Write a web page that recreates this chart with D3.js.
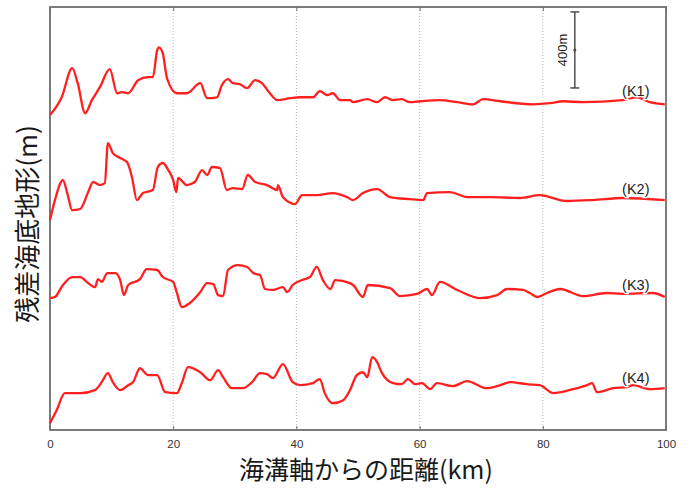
<!DOCTYPE html>
<html>
<head>
<meta charset="utf-8">
<title>残差海底地形</title>
<script src="https://d3js.org/d3.v7.min.js"></script>
<style>
  body { margin: 0; background: #fff; }
  svg { display: block; }
  .grid line { stroke: #bbb; stroke-dasharray: 1,2; }
  .tick text { fill: #333; }
</style>
</head>
<body>
<svg width="696" height="491"></svg>
<script>

// profile names and vertical offsets (m)
var names = ["(K1)", "(K2)", "(K3)", "(K4)"];
var offsets = [1725, 1210, 705, 215];
var xTicks = [0, 20, 40, 60, 80, 100];

// [distance km, residual m]
var k1 = [[0,-68],[1.9,26],[3.6,179],[4.5,100],[5.7,-58],[6.8,11],[8.1,79],[9.7,174],[10.9,47],[11.7,53],
  [12.7,47],[14.3,116],[15.9,132],[16.7,132],[17.4,274],[17.7,289],[18.3,258],[19.0,126],[20.6,47],[22.2,47],
  [24.4,100],[25.5,21],[27.1,26],[27.9,89],[28.9,121],[29.7,100],[30.8,95],[32.0,74],[33.3,116],[34.4,100],
  [35.7,47],[36.9,11],[39.0,21],[40.6,26],[42.7,26],[43.8,58],[45.0,37],[45.9,47],[47.1,11],[48.7,11],
  [49.2,0],[51.5,16],[53.1,0],[54.4,26],[55.7,11],[57.1,16],[58.4,0],[60.1,5],[63.3,11],[66.1,0],
  [68.7,-11],[70.3,16],[73.1,5],[78.4,-11],[81.2,-5],[83.3,5],[86.5,0],[93.0,11],[95.3,26],[97.4,0],[99.8,-11]];
var k2 = [[0,-105],[0.8,0],[2.1,105],[2.8,37],[3.6,-53],[4.9,-47],[6.2,42],[7.0,95],[8.1,79],[8.9,89],
  [9.4,300],[10.2,247],[11.4,221],[12.5,200],[13.3,121],[14.1,0],[15.1,37],[16.7,53],[17.5,174],[18.3,195],
  [19.2,158],[20.0,105],[20.5,42],[20.8,116],[22.2,79],[23.5,95],[24.7,158],[25.5,132],[26.3,174],[27.6,168],
  [28.7,53],[29.7,63],[31.2,58],[32.1,132],[33.3,95],[35.2,79],[36.9,53],[37.0,79],[37.8,16],[39.8,-21],
  [40.9,26],[43.3,26],[45.9,37],[48.2,16],[49.2,0],[50.8,37],[53.1,58],[55.2,16],[58.4,5],[60.6,0],
  [61.2,37],[64.9,42],[67.7,16],[71.4,16],[76.3,11],[79.5,26],[83.9,-5],[88.1,0],[93.0,11],[99.8,0]];
var k3 = [[0,-11],[0.8,-5],[2.1,58],[3.6,100],[4.9,100],[6.2,68],[7.3,47],[7.8,89],[8.4,74],[9.3,121],
  [10.6,121],[11.4,84],[12.0,5],[12.7,58],[14.6,89],[15.7,142],[17.4,137],[18.3,100],[20.0,74],[20.6,16],
  [21.4,-58],[22.7,-37],[24.4,21],[25.5,68],[26.5,63],[27.3,5],[28.1,0],[28.9,137],[30.5,163],[32.0,153],
  [33.0,121],[34.1,110],[34.9,37],[36.2,32],[37.8,47],[38.5,21],[39.4,58],[40.9,84],[42.2,100],[43.3,153],
  [44.3,84],[45.5,37],[46.3,84],[48.7,68],[49.2,58],[50.8,-5],[51.6,58],[55.2,42],[56.8,0],[59.6,11],
  [61.2,37],[62.0,5],[63.3,74],[66.1,32],[69.8,-11],[72.6,5],[74.2,37],[76.8,32],[77.9,16],[79.1,-5],
  [80.7,16],[82.8,37],[86.5,0],[90.4,16],[93.0,11],[97.9,16],[99.8,-5]];
var k4 = [[0,-179],[1.1,-110],[2.4,-21],[4.9,-21],[7.3,-5],[8.4,37],[9.4,84],[10.2,37],[11.4,-5],[12.7,21],
  [13.5,37],[14.6,110],[15.9,74],[17.4,74],[18.7,-16],[20.6,-21],[21.4,32],[22.4,116],[24.4,89],[26.0,47],
  [27.3,100],[28.1,63],[29.5,5],[31.3,5],[32.8,37],[34.1,84],[35.2,79],[36.2,58],[37.8,132],[39.4,37],
  [40.6,21],[42.7,32],[43.8,53],[44.6,-21],[45.9,-74],[47.6,-58],[48.7,-5],[49.8,74],[50.8,89],[51.5,63],
  [52.3,168],[53.1,142],[53.9,84],[55.7,32],[57.1,26],[58.1,53],[59.3,26],[60.4,32],[61.7,0],[62.8,32],
  [65.4,16],[67.7,42],[70.9,5],[73.1,21],[74.7,37],[77.4,26],[79.5,21],[81.7,-21],[84.9,0],[87.2,21],
  [88.0,32],[88.8,-16],[91.4,5],[93.7,11],[94.6,21],[97.4,0],[99.8,5]];
var profiles = [k1, k2, k3, k4];

var svg = d3.select("svg"),
    plotL = 50, plotR = 666, plotT = 7, plotB = 430;

var x = d3.scaleLinear().domain([0, 100]).range([plotL, plotR]),
    y = d3.scaleLinear().domain([0, 2226]).range([plotB, plotT]);

// dotted grid
svg.append("g").attr("class", "grid")
  .selectAll("line").data(xTicks.slice(1, -1)).enter().append("line")
  .attr("x1", function(d) { return x(d); }).attr("x2", function(d) { return x(d); })
  .attr("y1", plotT).attr("y2", plotB);

// bottom axis
var ax = svg.append("g")
  .attr("transform", "translate(0," + plotB + ")")
  .call(d3.axisBottom(x).tickValues(xTicks).tickSizeInner(-4).tickSizeOuter(0).tickPadding(10));
ax.select(".domain").remove();
ax.selectAll(".tick line").attr("stroke", "#666");
ax.selectAll(".tick text").style("font-family", "Liberation Sans, Arial, sans-serif").style("font-size", "11.5px");

// top ticks
var at = svg.append("g")
  .attr("transform", "translate(0," + plotT + ")")
  .call(d3.axisTop(x).tickValues(xTicks).tickSizeInner(-4).tickSizeOuter(0).tickFormat(""));
at.select(".domain").remove();
at.selectAll(".tick line").attr("stroke", "#666");

// frame
svg.append("rect")
  .attr("x", plotL).attr("y", plotT)
  .attr("width", plotR - plotL).attr("height", plotB - plotT)
  .attr("fill", "none").attr("stroke", "#6e6e6e").attr("stroke-width", 1.8);

// profiles
var line = d3.line()
  .curve(d3.curveMonotoneX)
  .x(function(d) { return x(d[0]); })
  .y(function(d) { return y(d[1]); });

profiles.forEach(function(p, i) {
  var off = offsets[i];
  svg.append("path")
    .datum(p.map(function(d) { return [d[0], d[1] + off]; }))
    .attr("fill", "none")
    .attr("stroke", "#ff1f1f")
    .attr("stroke-width", 2.3)
    .attr("stroke-linejoin", "round")
    .attr("d", line);
});

// labels
svg.selectAll(".lab").data(names).enter().append("text")
  .attr("class", "lab")
  .attr("x", x(95.1))
  .attr("y", function(d, i) { return y(offsets[i] + 60); })
  .attr("text-anchor", "middle")
  .attr("dy", "0.35em")
  .style("font-family", "Liberation Sans, Arial, sans-serif")
  .style("font-size", "14.5px")
  .style("fill", "#222")
  .style("stroke", "#fff").style("stroke-width", 2.5).style("paint-order", "stroke")
  .text(function(d) { return d; });

// 400 m scale bar
var bx = x(85.2);
var sb = svg.append("g").attr("stroke", "#444").attr("stroke-width", 1.4);
sb.append("line").attr("x1", bx).attr("x2", bx).attr("y1", y(1800)).attr("y2", y(2200));
sb.append("line").attr("x1", bx - 4.5).attr("x2", bx + 4.5).attr("y1", y(1800)).attr("y2", y(1800));
sb.append("line").attr("x1", bx - 4.5).attr("x2", bx + 4.5).attr("y1", y(2200)).attr("y2", y(2200));
svg.append("circle").attr("cx", bx).attr("cy", y(2000)).attr("r", 1.5).attr("fill", "#444");
svg.append("text")
  .attr("transform", "translate(" + (bx - 12) + "," + y(2000) + ") rotate(-90)")
  .attr("text-anchor", "middle")
  .attr("dy", "0.35em")
  .style("font-family", "Liberation Sans, Arial, sans-serif")
  .style("font-size", "13px")
  .style("fill", "#222")
  .text("400m");

// axis titles
svg.append("text")
  .attr("x", 366).attr("y", 479)
  .attr("text-anchor", "middle")
  .style("font-family", "Noto Sans CJK JP, sans-serif")
  .style("font-size", "25px")
  .style("fill", "#1a1a1a")
  .text("海溝軸からの距離(km)");

svg.append("text")
  .attr("transform", "translate(28,224) rotate(-90)")
  .attr("text-anchor", "middle")
  .attr("dy", "0.35em")
  .style("font-family", "Noto Sans CJK JP, sans-serif")
  .style("font-size", "26px")
  .style("fill", "#1a1a1a")
  .text("残差海底地形(m)");

</script>
</body>
</html>
